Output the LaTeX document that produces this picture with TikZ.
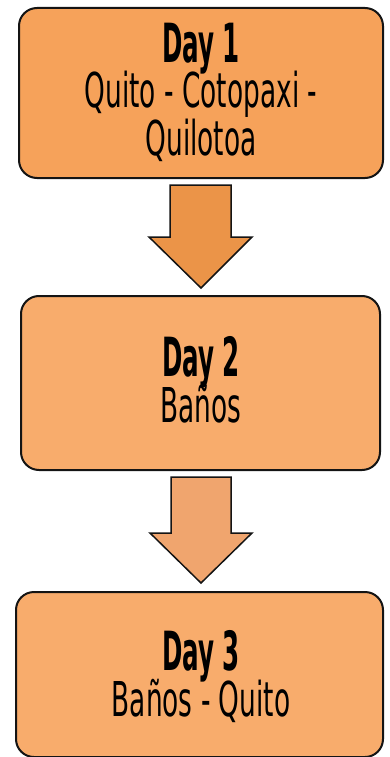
\documentclass[tikz,border=0pt]{standalone}
\usepackage{fontspec}
\newfontfamily\dayfont[FakeStretch=0.455]{DejaVu Sans Bold}
\newfontfamily\placefont[FakeStretch=0.55]{DejaVu Sans}
\definecolor{boxA}{RGB}{246,162,90}
\definecolor{boxB}{RGB}{248,172,108}
\definecolor{arrA}{RGB}{235,148,72}
\definecolor{arrB}{RGB}{240,165,110}
\definecolor{edge}{RGB}{20,20,20}
\tikzset{
  daybox/.style={draw=edge, line width=2pt, rounded corners=18pt, minimum width=#1, inner sep=0pt},
  blockarrow/.style={draw=edge, line width=1.5pt, line join=miter},
  daytxt/.style={anchor=base, inner sep=0pt, font=\dayfont\fontsize{54}{56}\selectfont},
  placetxt/.style={anchor=base, inner sep=0pt, font=\placefont\fontsize{48}{50}\selectfont}
}
\begin{document}
\begin{tikzpicture}[x=1pt,y=-1pt]
\useasboundingbox (0,0) rectangle (389,757);
% boxes
\node[daybox=364pt, minimum height=170pt, fill=boxA] (b1) at (201,93) {};
\node[daybox=359pt, minimum height=174pt, fill=boxB] (b2) at (200.5,383) {};
\node[daybox=367pt, minimum height=165pt, fill=boxB] (b3) at (199.5,674.5) {};
% arrows
\draw[blockarrow, fill=arrA] (170,185) -- (231,185) -- (231,237) -- (252,237) -- (201,288) -- (149,237) -- (170,237) -- cycle;
\draw[blockarrow, fill=arrB] (171,477) -- (231,477) -- (231,533) -- (252,533) -- (201,583) -- (150,533) -- (171,533) -- cycle;
% texts
\node[daytxt] (d1) at (201,63) {Day 1};
\node[placetxt] (p1a) at (201,108) {Quito - Cotopaxi -};
\node[placetxt] (p1b) at (201,155) {Quilotoa};
\node[daytxt] (d2) at (201,376) {Day 2};
\node[placetxt] (p2) at (201,422) {Baños};
\node[daytxt] (d3) at (201,670) {Day 3};
\node[placetxt] (p3) at (201,716) {Baños - Quito};
\end{tikzpicture}
\end{document}
